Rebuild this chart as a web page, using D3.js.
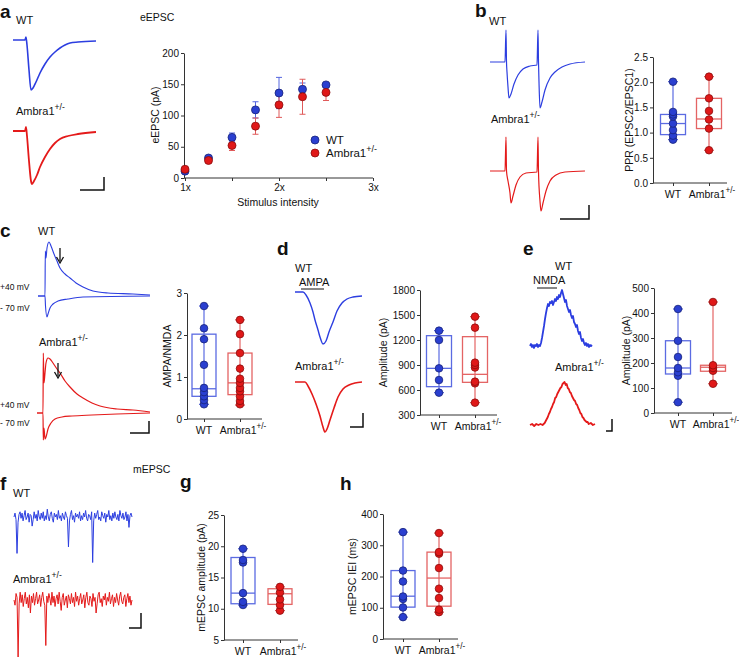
<!DOCTYPE html>
<html><head><meta charset="utf-8">
<script src="https://cdn.jsdelivr.net/npm/d3@7/dist/d3.min.js"></script>
<style>body{margin:0;background:#fff}svg{display:block}</style>
</head><body>
<script>
// ---------------- DATA ----------------
const groupNames = ["WT", "Ambra1"];

// a: eEPSC input-output
const stimIntensity = [1, 1.25, 1.5, 1.75, 2, 2.25, 2.5];
const eepscWT = [11, 32, 65, 109, 136, 142, 149];
const eepscWTErr = [2, 3, 7, 13, 25, 10, 3];
const eepscAmbra = [14, 28, 52, 83, 117, 130, 137];
const eepscAmbraErr = [3, 3, 8, 13, 20, 28, 13];
const stimTicks = [1, 1.5, 2, 2.5, 3];
const eepscTicks = [0, 50, 100, 150, 200];

// b: PPR  (box = [min, q1, median, q3, max])
const pprWT = [0.86, 0.94, 1.05, 1.18, 1.32, 1.36, 1.41, 2.01];
const pprWTBox = [0.86, 0.96, 1.18, 1.36, 2.01];
const pprAmbra = [0.65, 1.08, 1.26, 1.43, 1.68, 2.11];
const pprAmbraBox = [0.65, 1.08, 1.27, 1.68, 2.11];
const pprTicks = [0, 0.5, 1.0, 1.5, 2.0, 2.5];

// c: AMPA/NMDA
const anWT = [0.35, 0.45, 0.54, 0.64, 0.74, 1.29, 1.90, 2.16, 2.69];
const anWTBox = [0.35, 0.54, 0.72, 2.02, 2.69];
const anAmbra = [0.35, 0.43, 0.54, 0.66, 0.74, 0.86, 0.96, 1.20, 1.57, 2.02, 2.36];
const anAmbraBox = [0.33, 0.58, 0.86, 1.57, 2.36];
const anTicks = [0, 1, 2, 3];

// d: AMPA amplitude
const ampaWT = [568, 720, 860, 1200, 1312];
const ampaWTBox = [568, 640, 860, 1252, 1312];
const ampaAmbra = [448, 680, 700, 870, 900, 928, 1348, 1480];
const ampaAmbraBox = [448, 692, 788, 1240, 1480];
const ampaTicks = [300, 600, 900, 1200, 1500, 1800];

// e: NMDA amplitude
const nmdaWT = [43, 149, 163, 180, 224, 289, 416];
const nmdaWTBox = [43, 156, 180, 289, 416];
const nmdaAmbra = [117, 169, 180, 191, 444];
const nmdaAmbraBox = [117, 167, 183, 191, 444];
const nmdaTicks = [0, 100, 200, 300, 400, 500];

// g: mEPSC amplitude
const mAmpWT = [10.6, 11.1, 12.5, 17.4, 17.8, 19.6];
const mAmpWTBox = [10.6, 10.8, 12.5, 18.2, 19.6];
const mAmpAmbra = [9.7, 10.6, 11.5, 12.6, 13.5];
const mAmpAmbraBox = [9.7, 10.7, 12.4, 13.2, 13.5];
const mAmpTicks = [5, 10, 15, 20, 25];

// h: mEPSC IEI
const ieiWT = [70, 101, 128, 136, 184, 219, 342];
const ieiWTBox = [70, 102, 137, 219, 342];
const ieiAmbra = [86, 94, 131, 161, 227, 273, 278, 339];
const ieiAmbraBox = [86, 105, 195, 278, 339];
const ieiTicks = [0, 100, 200, 300, 400];

// example traces: [time, current] (arbitrary display units)
const trA_WT = [[0,0],[12,0],[13,3],[14,-5],[16,-30],[18,-50],[20,-48],[23,-42],[27,-33],[32,-24],[37,-17],[42,-12],[47,-8],[52,-5],[57,-3],[65,-2],[83,-1]];
const trA_Amb = [[0,0],[12,0],[13,4],[14,-5],[16,-30],[18,-50],[19,-53],[21,-50],[24,-44],[27,-36],[32,-26],[37,-18],[42,-12],[47,-8],[55,-5],[65,-3],[83,-1]];
const trB_WT = [[0,0],[15,0],[16,32],[16.5,0],[17,-10],[18,-25],[19,-36],[21,-32],[24,-22],[28,-13],[33,-7],[40,-4],[47,-3],[48,32],[48.5,0],[49,-20],[50,-46],[52,-40],[55,-28],[60,-16],[65,-10],[72,-5],[80,-2],[95,0]];
const trB_Amb = [[0,0],[15,0],[16,34],[16.5,0],[18,-10],[20,-22],[21,-32],[23,-25],[26,-14],[30,-6],[36,-2],[47,-1],[48,34],[48.5,-1],[50,-30],[51,-40],[53,-32],[56,-20],[60,-10],[66,-4],[75,-1],[95,0]];
const trC_WTpos = [[0,0],[7,0],[7.3,45],[8,38],[9,48],[11,54],[13,50],[16,42],[19,35],[22,28],[27,22],[32,18],[38,13],[45,9],[55,5],[70,3],[95,2],[112,1]];
const trC_WTneg = [[0,0],[7,0],[7.5,-10],[9,-21],[10,-18],[12,-12],[15,-8],[20,-5],[30,-3],[45,-1],[112,0]];
const trC_AmbPos = [[0,0],[6,0],[6.3,60],[7,30],[8,40],[9,50],[11,55],[13,54],[16,50],[20,44],[23,40],[28,32],[33,26],[40,19],[46,15],[55,10],[63,7],[80,4],[96,3],[113,1]];
const trC_AmbNeg = [[0,0],[6,0],[6.3,-27],[7,-15],[8,-26],[9,-24],[11,-16],[14,-10],[18,-6],[25,-4],[35,-3],[55,-2],[80,-1],[113,0]];
const trD_WT = [[0,0],[8,0],[11,-3],[15,-11],[18,-20],[20,-28],[23,-38],[25,-45],[28,-52],[31,-49],[34,-40],[38,-30],[42,-19],[47,-11],[52,-7],[58,-5],[67,-4]];
const trD_Amb = [[0,0],[10,0],[13,-4],[17,-12],[21,-22],[25,-34],[28,-45],[30,-50],[32,-47],[35,-38],[39,-26],[43,-15],[48,-7],[54,-3],[60,-1],[67,0]];
const trE_WT = [[0,0],[1,2],[2,-1],[3,1],[4,-2],[5,1],[6,0],[7,2],[8,-1],[9,1],[10,0],[11,3],[12,8],[13,14],[14,20],[15,27],[16,33],[17,38],[18,42],[19,40],[20,44],[21,43],[22,45],[23,41],[24,44],[25,47],[26,45],[27,49],[28,47],[29,51],[30,49],[31,53],[32,56],[33,52],[34,48],[35,44],[36,46],[37,40],[38,37],[39,34],[40,36],[41,31],[42,28],[43,30],[44,24],[45,22],[46,19],[47,21],[48,15],[49,12],[50,14],[51,8],[52,5],[53,7],[54,3],[55,1],[56,3],[57,0],[58,2],[59,-1],[60,1],[61,0],[62,1]];
const trE_Amb = [[0,0],[2,1],[4,-1],[6,1],[8,0],[10,1],[12,0],[14,2],[15,4],[16,6],[17,8],[18,11],[19,13],[20,16],[21,18],[22,21],[23,23],[24,27],[25,28],[26,31],[27,33],[28,35],[29,37],[30,38],[31,41],[32,42],[33,43],[34,40],[35,41],[36,37],[37,36],[38,33],[39,32],[40,29],[41,27],[42,25],[43,24],[44,21],[45,20],[46,17],[47,15],[48,12],[49,11],[50,8],[51,7],[52,5],[53,4],[54,3],[55,3],[56,1],[58,2],[60,0],[62,1]];
const mepscWT = [0,3,-2,-28,-4,2,4,-1,3,-3,1,5,-2,0,3,-4,2,1,-7,-2,4,-1,2,-3,5,0,-2,3,-1,4,-3,1,-2,6,0,-3,2,4,-1,-4,3,0,2,-2,5,-1,1,-3,3,0,-2,4,1,-1,-23,-3,2,5,-2,1,-4,3,0,2,-1,4,-3,1,-2,3,0,5,-1,-3,2,1,-2,4,-35,-3,3,-1,2,5,-2,0,-3,4,1,-1,3,-4,2,0,5,-2,1,-3,3,-1,4,0,-2,2,-3,5,1,-1,3,-2,0,4,-3,2,-8,1,3,0];
const mepscAmbra = [0,-4,5,2,-44,-3,6,-2,4,-5,1,6,-3,2,-6,4,-10,3,-2,5,-4,1,6,-3,0,4,-5,2,6,-1,-4,-35,3,-2,5,1,-4,6,-2,3,-5,1,4,-3,6,-1,-8,2,5,-4,0,3,-6,4,1,-3,5,-2,2,-5,6,-1,3,-4,1,5,-3,0,4,-6,2,6,-2,-4,3,1,-5,5,-1,2,-10,-3,4,6,-2,1,-5,3,0,5,-4,2,-1,6,-3,1,4,-5,2,-2,5,0,-4,3,6,-1,-3,2,4,-5,1,5,-2,3,-4,0];

// ---------------- DRAWING ----------------
const W = 739, H = 657;
const FF = "'Liberation Sans', Arial, Helvetica, sans-serif";
const BLUE = "#2c3ee0", RED = "#e41a1a";
const BLUE_DOT = "#2a3fd0", RED_DOT = "#e01818";
const BLUE_DOT_S = "#16227a", RED_DOT_S = "#8a0c0c";
const BLUE_BOX = "#5b6be2", RED_BOX = "#e46464";
const AX = "#333";
const TICK_FS = 10, LAB_FS = 10.5;

const svg = d3.select("body").append("svg").attr("width", W).attr("height", H)
  .style("font-family", FF);

function txt(x, y, s, size = 11, opt = {}) {
  const t = svg.append("text").attr("x", x).attr("y", y).attr("font-size", size)
    .attr("fill", opt.fill || "#111").attr("text-anchor", opt.anchor || "start").text(s);
  if (opt.bold) t.attr("font-weight", "bold");
  return t;
}
function ambraTxt(x, y, size = 11, anchor = "start", parent = svg) {
  const t = parent.append("text").attr("x", x).attr("y", y).attr("font-size", size)
    .attr("fill", "#111").attr("text-anchor", anchor);
  t.append("tspan").text("Ambra1");
  t.append("tspan").attr("dy", -5).attr("font-size", size * 0.78).text("+/-");
  return t;
}
function trace(data, x0, x1, base, color, k = 1, sw = 1.3, curve = d3.curveMonotoneX) {
  const xs = d3.scaleLinear().domain(d3.extent(data, d => d[0])).range([x0, x1]);
  const ys = d3.scaleLinear().domain([0, 1]).range([base, base - k]);
  svg.append("path").datum(data).attr("fill", "none").attr("stroke", color)
    .attr("stroke-width", sw).attr("stroke-linejoin", "round")
    .attr("d", d3.line().x(d => xs(d[0])).y(d => ys(d[1])).curve(curve));
}
function noiseTrace(vals, x0, x1, base, color, k) {
  const xs = d3.scaleLinear().domain([0, vals.length - 1]).range([x0, x1]);
  const ys = d3.scaleLinear().domain([0, 1]).range([base, base - k]);
  svg.append("path").datum(vals).attr("fill", "none").attr("stroke", color)
    .attr("stroke-width", 1).attr("d", d3.line().x((d, i) => xs(i)).y(d => ys(d)));
}
function scaleBar(xr, yb, xl, yt) {
  svg.append("path").attr("fill", "none").attr("stroke", "#111").attr("stroke-width", 1.5)
    .attr("d", `M${xl},${yb}H${xr}V${yt}`);
}
function styleAxis(g) {
  g.select(".domain").attr("stroke", AX).attr("stroke-width", 1);
  g.selectAll(".tick line").attr("stroke", AX);
  g.selectAll(".tick text").attr("fill", "#111").attr("font-size", TICK_FS).attr("font-family", FF);
}
function vlabel(x, y, s) {
  svg.append("text").attr("transform", `translate(${x},${y}) rotate(-90)`)
    .attr("text-anchor", "middle").attr("dy", "0.35em").attr("font-size", LAB_FS)
    .attr("fill", "#111").text(s);
}

function boxPanel(cfg, sets) {
  const y = d3.scaleLinear().domain(cfg.domain).range([cfg.yBot, cfg.yTop]);
  const x = d3.scalePoint().domain(groupNames).range(cfg.centers);
  const ga = svg.append("g").attr("transform", `translate(${cfg.ax},0)`)
    .call(d3.axisLeft(y).tickValues(cfg.ticks).tickSize(3).tickPadding(2).tickSizeOuter(0).tickFormat(cfg.fmt));
  styleAxis(ga);
  svg.append("line").attr("x1", cfg.ax).attr("x2", cfg.xEnd).attr("y1", cfg.yBot).attr("y2", cfg.yBot)
    .attr("stroke", AX);
  const gx = svg.append("g").attr("transform", `translate(0,${cfg.yBot})`)
    .call(d3.axisBottom(x).tickSize(3).tickFormat(""));
  gx.select(".domain").remove();
  gx.selectAll(".tick line").attr("stroke", AX);
  txt(x("WT"), cfg.yBot + 15, "WT", TICK_FS + 0.5, { anchor: "middle" });
  ambraTxt(x("Ambra1") + 3, cfg.yBot + 15, TICK_FS + 0.5, "middle");
  vlabel(cfg.labelX, (cfg.yTop + cfg.yBot) / 2, cfg.label);
  sets.forEach(s => {
    const cx = x(s.name), bw = cfg.boxW, [mn, q1, md, q3, mx] = s.box;
    const g = svg.append("g");
    const cap = 5;
    g.append("line").attr("x1", cx).attr("x2", cx).attr("y1", y(mn)).attr("y2", y(mx))
      .attr("stroke", s.boxColor).attr("stroke-width", 1.2);
    [mn, mx].forEach(v => g.append("line").attr("x1", cx - cap).attr("x2", cx + cap)
      .attr("y1", y(v)).attr("y2", y(v)).attr("stroke", s.boxColor).attr("stroke-width", 1.2));
    g.append("rect").attr("x", cx - bw / 2).attr("y", y(q3)).attr("width", bw)
      .attr("height", y(q1) - y(q3)).attr("fill", "none")
      .attr("stroke", s.boxColor).attr("stroke-width", 1.3);
    g.append("line").attr("x1", cx - bw / 2).attr("x2", cx + bw / 2).attr("y1", y(md)).attr("y2", y(md))
      .attr("stroke", s.boxColor).attr("stroke-width", 1.3);
    g.selectAll("circle").data(s.pts).join("circle").attr("cx", cx).attr("cy", d => y(d)).attr("r", 3.8)
      .attr("fill", s.fill).attr("stroke", s.stroke).attr("stroke-width", 0.8);
  });
}
const sets = (wt, wtBox, am, amBox) => [
  { name: "WT", pts: wt, box: wtBox, fill: BLUE_DOT, stroke: BLUE_DOT_S, boxColor: BLUE_BOX },
  { name: "Ambra1", pts: am, box: amBox, fill: RED_DOT, stroke: RED_DOT_S, boxColor: RED_BOX }
];

// ----- panel letters -----
[["a", 0, 18], ["b", 475, 17], ["c", 0, 237], ["d", 277, 255], ["e", 523, 255],
 ["f", 0, 490], ["g", 180, 488], ["h", 340, 490]].forEach(([s, x, y]) => txt(x, y, s, 19, { bold: true }));

// ----- panel a -----
txt(16, 24, "WT", 11);
ambraTxt(16, 115, 11);
trace(trA_WT, 13, 96, 40, BLUE, 1, 1.6);
trace(trA_Amb, 13, 96, 131, RED, 1, 1.8);
scaleBar(104, 190, 80, 177);
txt(140, 21, "eEPSC", 10.5);
{
  const x = d3.scaleLinear().domain([1, 3]).range([185, 373]);
  const y = d3.scaleLinear().domain([0, 200]).range([178, 53]);
  const gy = svg.append("g").attr("transform", "translate(184,0)")
    .call(d3.axisLeft(y).tickValues(eepscTicks).tickSize(3).tickPadding(2).tickSizeOuter(0));
  styleAxis(gy);
  const gx = svg.append("g").attr("transform", "translate(0,178)")
    .call(d3.axisBottom(x).tickValues(stimTicks).tickSize(3).tickPadding(3).tickSizeOuter(0)
      .tickFormat(d => Number.isInteger(d) ? d + "x" : ""));
  styleAxis(gx);
  gx.select(".domain").attr("d", "M184,0H373");
  txt(278, 206, "Stimulus intensity", 10.5, { anchor: "middle" });
  vlabel(155, 115, "eEPSC (pA)");
  const series = [
    { v: eepscWT, e: eepscWTErr, fill: BLUE_DOT, s: BLUE_DOT_S, ec: "#5566e0" },
    { v: eepscAmbra, e: eepscAmbraErr, fill: RED_DOT, s: RED_DOT_S, ec: "#e05a5a" }
  ];
  series.forEach(sr => {
    const g = svg.append("g").attr("stroke", sr.ec).attr("stroke-width", 1);
    stimIntensity.forEach((si, i) => {
      const cx = x(si), lo = y(sr.v[i] - sr.e[i]), hi = y(sr.v[i] + sr.e[i]);
      g.append("line").attr("x1", cx).attr("x2", cx).attr("y1", lo).attr("y2", hi);
      g.append("line").attr("x1", cx - 3).attr("x2", cx + 3).attr("y1", lo).attr("y2", lo);
      g.append("line").attr("x1", cx - 3).attr("x2", cx + 3).attr("y1", hi).attr("y2", hi);
    });
  });
  series.forEach(sr => {
    svg.append("g").selectAll("circle").data(sr.v).join("circle")
      .attr("cx", (d, i) => x(stimIntensity[i])).attr("cy", d => y(d)).attr("r", 4)
      .attr("fill", sr.fill).attr("stroke", sr.s).attr("stroke-width", 0.8);
  });
  svg.append("circle").attr("cx", 315).attr("cy", 140).attr("r", 4).attr("fill", BLUE_DOT).attr("stroke", BLUE_DOT_S).attr("stroke-width", 0.8);
  svg.append("circle").attr("cx", 315).attr("cy", 153).attr("r", 4).attr("fill", RED_DOT).attr("stroke", RED_DOT_S).attr("stroke-width", 0.8);
  txt(326, 144, "WT", 11.5);
  ambraTxt(326, 157, 11.5);
}

// ----- panel b -----
txt(489, 25, "WT", 11);
ambraTxt(491, 123, 11);
trace(trB_WT, 490, 585, 62, BLUE, 1, 1.2);
trace(trB_Amb, 490, 585, 171, RED, 1, 1.2);
scaleBar(589, 219, 560, 205);
boxPanel({ ax: 653, yTop: 57, yBot: 183, domain: [0, 2.5], ticks: pprTicks, fmt: d3.format(".1f"),
  centers: [673, 709], boxW: 25, xEnd: 727, labelX: 629, label: "PPR (EPSC2/EPSC1)" },
  sets(pprWT, pprWTBox, pprAmbra, pprAmbraBox));

// ----- panel c -----
txt(38, 235, "WT", 11);
ambraTxt(39, 346, 11);
txt(0, 290, "+40 mV", 8.5);
txt(0, 311, "- 70 mV", 8.5);
txt(0, 408, "+40 mV", 8.5);
txt(0, 426, "- 70 mV", 8.5);
trace(trC_WTpos, 38, 150, 296, BLUE, 1, 1.1);
trace(trC_WTneg, 38, 150, 296, BLUE, 1, 1.1);
trace(trC_AmbPos, 37, 150, 413, RED, 1, 1.2);
trace(trC_AmbNeg, 37, 150, 413, RED, 1, 1.2);
[[60, 248], [58, 363]].forEach(([x, y]) => {
  svg.append("line").attr("x1", x).attr("x2", x).attr("y1", y).attr("y2", y + 13).attr("stroke", "#111").attr("stroke-width", 1.3);
  svg.append("path").attr("d", `M${x - 3.5},${y + 9}L${x},${y + 15}L${x + 3.5},${y + 9}`).attr("fill", "none").attr("stroke", "#111").attr("stroke-width", 1.3);
});
scaleBar(149, 433, 130, 421);
boxPanel({ ax: 187, yTop: 293, yBot: 419, domain: [0, 3], ticks: anTicks, fmt: d3.format("d"),
  centers: [204, 240], boxW: 24, xEnd: 262, labelX: 167, label: "AMPA/NMDA" },
  sets(anWT, anWTBox, anAmbra, anAmbraBox));

// ----- panel d -----
txt(295, 272, "WT", 11);
txt(299, 286, "AMPA", 11);
svg.append("line").attr("x1", 301).attr("x2", 324).attr("y1", 289).attr("y2", 289).attr("stroke", "#111");
ambraTxt(295, 370, 11);
trace(trD_WT, 295, 362, 292, BLUE, 1, 1.4);
trace(trD_Amb, 295, 362, 382, RED, 1, 1.6);
scaleBar(363, 427, 350, 413);
boxPanel({ ax: 420, yTop: 290, yBot: 415, domain: [300, 1800], ticks: ampaTicks, fmt: d3.format("d"),
  centers: [439, 475], boxW: 25, xEnd: 497, labelX: 383, label: "Amplitude (pA)" },
  sets(ampaWT, ampaWTBox, ampaAmbra, ampaAmbraBox));

// ----- panel e -----
txt(555, 270, "WT", 11);
txt(533, 284, "NMDA", 11);
svg.append("line").attr("x1", 537).attr("x2", 557).attr("y1", 288).attr("y2", 288).attr("stroke", "#111");
ambraTxt(555, 371, 11);
trace(trE_WT, 530, 592, 346, BLUE, 1, 1.8, d3.curveLinear);
trace(trE_Amb, 530, 595, 425, RED, 1, 1.8, d3.curveLinear);
scaleBar(612, 431, 606, 419);
boxPanel({ ax: 654, yTop: 288, yBot: 413, domain: [0, 500], ticks: nmdaTicks, fmt: d3.format("d"),
  centers: [678, 713], boxW: 25, xEnd: 732, labelX: 626, label: "Amplitude (pA)" },
  sets(nmdaWT, nmdaWTBox, nmdaAmbra, nmdaAmbraBox));

// ----- panel f -----
txt(133, 473, "mEPSC", 10.5);
txt(13, 497, "WT", 11);
ambraTxt(13, 583, 11);
noiseTrace(mepscWT, 14, 132, 517, BLUE, 1.3);
noiseTrace(mepscAmbra, 14, 132, 600, RED, 1.3);
scaleBar(141, 628, 129, 613);

// ----- panel g -----
boxPanel({ ax: 224, yTop: 515, yBot: 640, domain: [5, 25], ticks: mAmpTicks, fmt: d3.format("d"),
  centers: [243, 280], boxW: 24, xEnd: 298, labelX: 201, label: "mEPSC amplitude (pA)" },
  sets(mAmpWT, mAmpWTBox, mAmpAmbra, mAmpAmbraBox));

// ----- panel h -----
boxPanel({ ax: 383, yTop: 514, yBot: 639, domain: [0, 400], ticks: ieiTicks, fmt: d3.format("d"),
  centers: [403, 439], boxW: 24, xEnd: 458, labelX: 352, label: "mEPSC IEI (ms)" },
  sets(ieiWT, ieiWTBox, ieiAmbra, ieiAmbraBox));
</script>
</body></html>
